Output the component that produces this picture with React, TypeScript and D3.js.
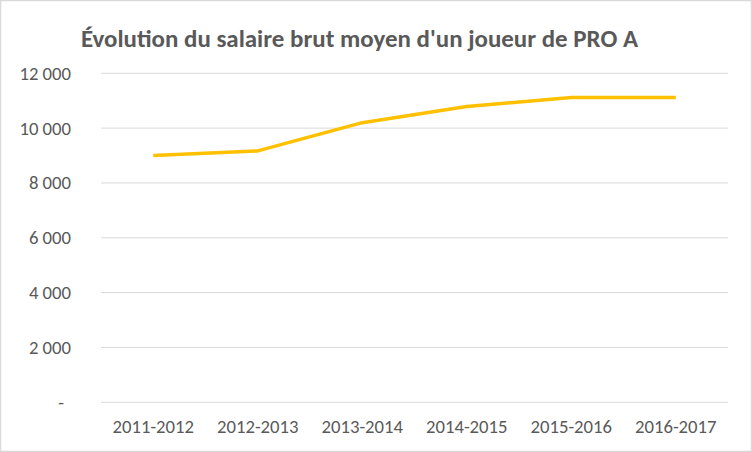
import React from "react";
import * as d3 from "d3";

const WIDTH = 752;
const HEIGHT = 452;

const seasons = [
  "2011-2012",
  "2012-2013",
  "2013-2014",
  "2014-2015",
  "2015-2016",
  "2016-2017",
];
const salaries = [9000, 9170, 10200, 10790, 11120, 11120];
const yTicks = [0, 2000, 4000, 6000, 8000, 10000, 12000];

const TITLE = "Évolution du salaire brut moyen d'un joueur de PRO A";
const FONT = "Carlito, Calibri, 'Liberation Sans', Arial, sans-serif";
const TEXT_COLOR = "#595959";
const GRID_COLOR = "#D9D9D9";
const LINE_COLOR = "#FFC000";

const PLOT = { left: 101, right: 728, top: 73.3, bottom: 402.3 };

const frLocale = d3.formatLocale({
  decimal: ",",
  thousands: " ",
  grouping: [3],
  currency: ["", " €"],
});
const fmt = frLocale.format(",d");
const tickLabel = (v: number) => (v === 0 ? "-" : fmt(v));

export default function App() {
  const x = d3
    .scaleBand<string>()
    .domain(seasons)
    .range([PLOT.left, PLOT.right])
    .padding(0);

  const y = d3
    .scaleLinear()
    .domain([0, 12000])
    .range([PLOT.bottom, PLOT.top]);

  const line = d3
    .line<number>()
    .x((_, i) => (x(seasons[i]) ?? 0) + x.bandwidth() / 2)
    .y((d) => y(d));

  return (
    <svg
      width={WIDTH}
      height={HEIGHT}
      style={{ position: "absolute", left: 0, top: 0, background: "#fff" }}
    >
      <rect
        x={0.5}
        y={0.5}
        width={WIDTH - 1}
        height={HEIGHT - 1}
        fill="#fff"
        stroke={GRID_COLOR}
        strokeWidth={1.5}
      />
      <text
        x={81}
        y={47}
        fill={TEXT_COLOR}
        fontFamily={FONT}
        fontSize={24.5}
        fontWeight={700}
        textLength={557}
        lengthAdjust="spacingAndGlyphs"
      >
        {TITLE}
      </text>

      {/* grid and y labels */}
      {yTicks.map((t) => (
        <g key={t}>
          <line
            x1={PLOT.left}
            x2={PLOT.right}
            y1={y(t)}
            y2={y(t)}
            stroke={GRID_COLOR}
            strokeWidth={1}
          />
          <text
            x={t === 0 ? 64 : 71}
            y={y(t) + 6.5}
            textAnchor="end"
            fill={TEXT_COLOR}
            fontFamily={FONT}
            fontSize={18.7}
          >
            {tickLabel(t)}
          </text>
        </g>
      ))}

      {/* x labels */}
      {seasons.map((s) => (
        <text
          key={s}
          x={(x(s) ?? 0) + x.bandwidth() / 2}
          y={433}
          textAnchor="middle"
          fill={TEXT_COLOR}
          fontFamily={FONT}
          fontSize={18.7}
        >
          {s}
        </text>
      ))}

      <path
        d={line(salaries) || ""}
        fill="none"
        stroke={LINE_COLOR}
        strokeWidth={3.5}
        strokeLinejoin="round"
      />
    </svg>
  );
}
